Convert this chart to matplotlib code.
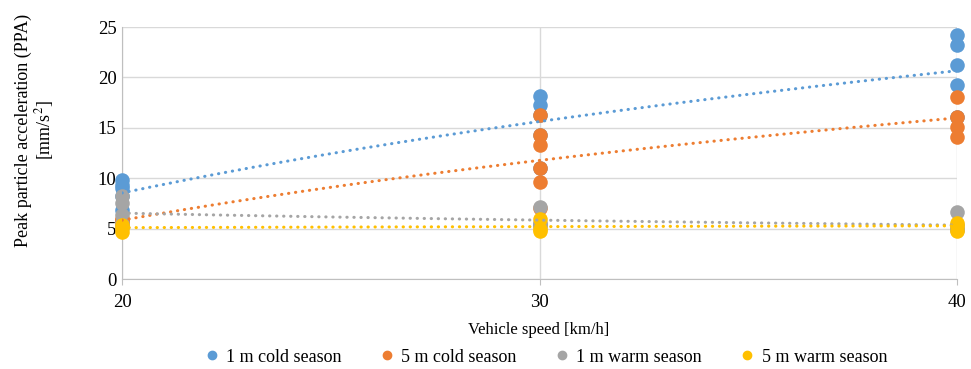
import numpy as np
import matplotlib
matplotlib.use('Agg')
import matplotlib.pyplot as plt
from matplotlib.lines import Line2D

plt.rcParams['font.family'] = ['Liberation Serif', 'DejaVu Serif']
plt.rcParams['mathtext.fontset'] = 'stix'

# vehicle speed [km/h] and PPA readings [mm/s2] per series
speeds = [20, 30, 40]
cold_1m = [[9.8, 9.3, 9.0, 8.2, 6.8],
           [18.2, 17.3, 16.3, 14.3, 11.0],
           [24.2, 23.2, 21.2, 19.2, 16.1]]
cold_5m = [[5.8, 5.6, 5.5, 5.9, 6.0],
           [16.3, 14.3, 13.3, 11.0, 9.6, 7.0],
           [18.1, 16.1, 15.1, 14.1]]
warm_1m = [[8.2, 7.5, 6.3, 5.6, 5.2],
           [7.1, 5.6, 5.4, 5.3, 5.5],
           [6.6, 5.4, 5.0, 5.0, 4.9]]
warm_5m = [[5.4, 5.1, 4.7],
           [6.0, 5.0, 4.8],
           [5.6, 5.3, 4.8]]

labels = ['1 m cold season', '5 m cold season', '1 m warm season', '5 m warm season']
colors = ['#5B9BD5', '#ED7D31', '#A5A5A5', '#FFC000']
yticks = [0, 5, 10, 15, 20, 25]


def flatten(groups):
    xs, ys = [], []
    for s, vals in zip(speeds, groups):
        xs += [s] * len(vals)
        ys += vals
    return np.array(xs, float), np.array(ys, float)


fig = plt.figure(figsize=(9.71, 3.69), dpi=100)
ax = fig.add_axes([122 / 971, 1 - 279 / 369, 835 / 971, 252 / 369])

series = [cold_1m, cold_5m, warm_1m, warm_5m]
for groups, c in zip(series, colors):
    x, y = flatten(groups)
    ax.scatter(x, y, s=110, color=c, zorder=3, clip_on=False, linewidths=0)

# logarithmic trend lines
xx = np.linspace(20, 40, 200)
for groups, c in zip(series, colors):
    x, y = flatten(groups)
    a, b = np.polyfit(np.log(x), y, 1)
    ax.plot(xx, a * np.log(xx) + b, color=c, lw=2.2,
            linestyle=(0, (0.1, 2.2)), dash_capstyle='round', zorder=4)

ax.set_xlim(20, 40)
ax.set_ylim(0, 25)
ax.set_xticks(speeds)
ax.set_yticks(yticks)
ax.grid(True, color='#D9D9D9', lw=1)
ax.set_axisbelow(True)
for s in ['top', 'right']:
    ax.spines[s].set_visible(False)
for s in ['left', 'bottom']:
    ax.spines[s].set_color('#BFBFBF')
ax.tick_params(axis='y', length=0, pad=4, labelsize=13.5)
ax.tick_params(axis='x', length=4, color='#BFBFBF', pad=7, labelsize=13.5)

fig.text(539 / 971, 1 - 330 / 369, 'Vehicle speed [km/h]', ha='center', va='center', fontsize=12)
fig.text(35 / 971, 1 - 130 / 369, 'Peak particle acceleration (PPA)\n[mm/s$^{2}$]',
         ha='center', va='center', rotation=90, fontsize=13, linespacing=1.05)

handles = [Line2D([], [], marker='o', ls='', color=c, markersize=6) for c in colors]
fig.legend(handles, labels, loc='center', bbox_to_anchor=(545 / 971, 1 - 357 / 369),
           ncol=4, frameon=False, prop={'family': 'Liberation Serif', 'size': 13},
           handletextpad=0.3, columnspacing=2.0, handlelength=1.0)

fig.savefig('out.png', dpi=100)
